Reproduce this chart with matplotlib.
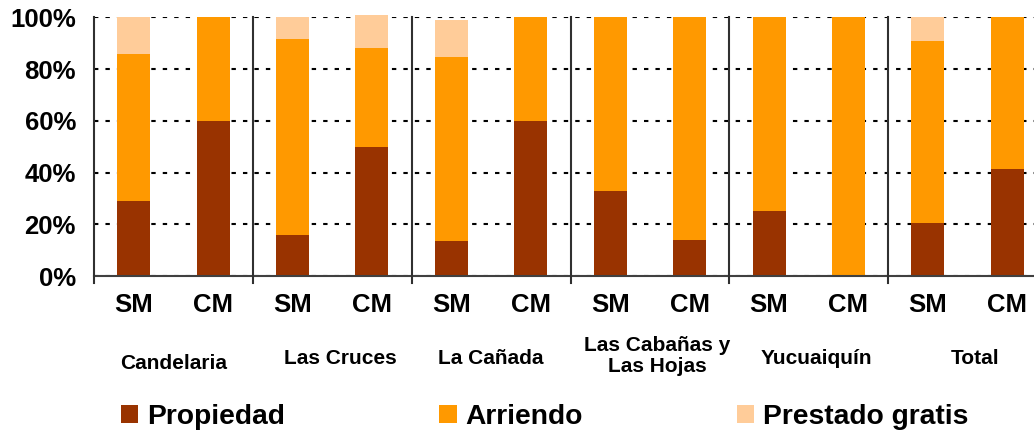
import matplotlib
matplotlib.use("Agg")
import matplotlib.pyplot as plt
from matplotlib.patches import Patch

plt.rcParams["font.family"] = ["Liberation Sans", "DejaVu Sans"]
plt.rcParams["font.weight"] = "bold"

# values (percent of each bar)
bar_labels = ["SM", "CM"] * 6
groups = ["Candelaria", "Las Cruces", "La Cañada", "Las Cabañas y\nLas Hojas", "Yucuaiquín", "Total"]
propiedad = [29, 60, 16, 50, 13.5, 60, 33, 14, 25, 0, 20.5, 41.5]
arriendo = [57, 40, 75.5, 38, 71, 40, 67, 86, 75, 100, 70.5, 58.5]
prestado = [14, 0, 8.5, 13, 14.5, 0, 0, 0, 0, 0, 9, 0]
series_names = ["Propiedad", "Arriendo", "Prestado gratis"]
colors = ["#993300", "#FF9900", "#FFCC99"]
yticks = [0, 20, 40, 60, 80, 100]


def plot_chart():
    fig = plt.figure(figsize=(10.34, 4.33), dpi=100)
    ax = fig.add_axes([94 / 1034, 1 - 276 / 433, 953 / 1034, 258.7 / 433])

    x = [i + 0.5 for i in range(len(bar_labels))]
    w = 0.415
    bottom = [0] * len(x)
    for vals, col in zip([propiedad, arriendo, prestado], colors):
        ax.bar(x, vals, w, bottom=bottom, color=col, linewidth=0, zorder=2, clip_on=False)
        bottom = [b + v for b, v in zip(bottom, vals)]

    ax.set_xlim(0, 12)
    ax.set_ylim(0, 100)
    ax.set_yticks(yticks)
    ax.set_yticklabels([f"{v}%" for v in yticks], fontsize=18.5, fontweight="bold")
    ax.set_xticks(x)
    ax.set_xticklabels(bar_labels, fontsize=18.5, fontweight="bold")
    ax.tick_params(axis="y", length=0, pad=13)
    ax.tick_params(axis="x", length=0, pad=12)

    ax.set_axisbelow(True)
    ax.yaxis.grid(True, color="black", linewidth=1.5, linestyle=(0, (2.1, 3.4)))

    for s in ["top", "right", "left"]:
        ax.spines[s].set_visible(False)
    ax.spines["bottom"].set_color("#404040")
    ax.spines["bottom"].set_linewidth(1.5)

    # group separators, running a little below the axis
    trans = ax.get_xaxis_transform()
    for gx in range(0, 13, 2):
        ax.plot([gx, gx], [-0.027, 1], color="#303030", linewidth=1.5,
                transform=trans, clip_on=False, zorder=3)

    # group labels sit slightly off-centre in the original
    dx = [0, 0.1, 0, 0.09, 0.1, 0.09]
    ys = [-0.34, -0.317, -0.317, -0.31, -0.317, -0.317]
    for i, g in enumerate(groups):
        ax.text(2 * i + 1 + dx[i], ys[i], g, transform=trans, ha="center", va="center",
                fontsize=15, fontweight="bold", linespacing=1.1)

    handles = [Patch(facecolor=c, edgecolor="none") for c in colors]
    fig.legend(handles, series_names, ncol=3, frameon=False, loc="center left",
               bbox_to_anchor=(121 / 1034, 1 - 417 / 433),
               prop={"size": 20.3, "weight": "bold"},
               handlelength=0.62, handleheight=0.62, handletextpad=0.32,
               columnspacing=5.45, borderpad=0, borderaxespad=0)

    fig.savefig("out.png", dpi=100)


if __name__ == "__main__":
    plot_chart()
